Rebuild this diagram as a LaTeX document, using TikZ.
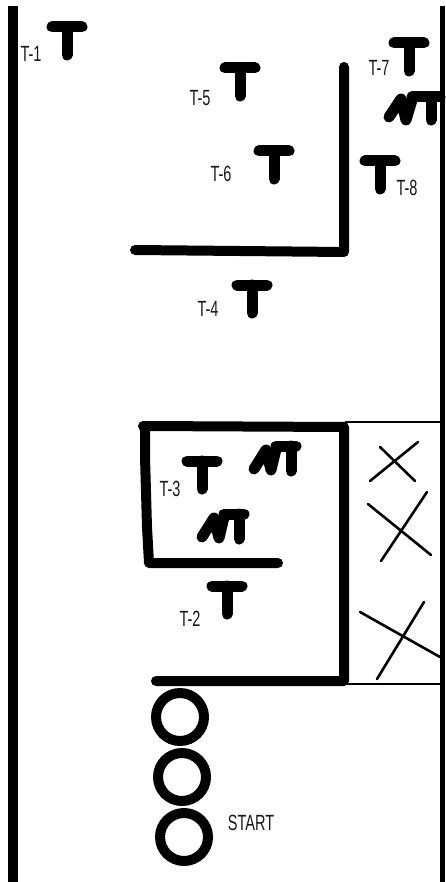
\documentclass[tikz,border=0pt]{standalone}
\usepackage{fontspec}
\setmainfont{Liberation Sans}
\tikzset{
  wall/.style={line width=10pt,line cap=round,line join=round,black},
  teeline/.style={line width=11pt,line cap=round,line join=round,black},
  thin wall/.style={line width=2pt,black},
  cross/.style={line width=2.6pt,line cap=round,black},
  ring/.style={circle,draw=black,line width=10pt,minimum size=48pt,inner sep=0pt,fill=white},
  lab/.style={inner sep=0pt,font=\fontsize{22}{22}\selectfont,transform shape,xscale=.66,text=black!90},
  hand/.style={line width=11pt,line cap=round,line join=round,black}
}
\newcommand{\teeshape}[2]{%
  \draw[teeline] (#1-15,#2) -- (#1+15,#2);
  \draw[teeline] (#1,#2) -- (#1,#2+28);
}
\newcommand{\ntshape}[2]{%
  \draw[hand] (#1+6,#2+28) -- (#1+18,#2+9) -- (#1+23,#2+29) -- (#1+28,#2+8);
  \draw[hand] (#1+28,#2+5) -- (#1+48,#2+5);
  \draw[hand] (#1+43,#2+5) -- (#1+43,#2+30);
}
\begin{document}
\begin{tikzpicture}[x=1pt,y=-1pt]
\useasboundingbox (0,0) rectangle (445,882);
\fill[white] (0,0) rectangle (445,882);
% outer walls
\draw[line width=10pt,black] (13,6) -- (13,882);
\draw[line width=5pt,black] (442.5,6) -- (442.5,882);
% upper L wall
\draw[wall] (344,67) -- (344,252) -- (135,250);
% lower walls
\draw[wall] (156,681) -- (344,681) -- (344,427) -- (143,426);
\draw[wall] (145,426) -- (145,457) -- (147,527) -- (149,563) -- (278,563);
% closed bay
\draw[thin wall] (345,421.5) -- (440,421.5);
\draw[thin wall] (345,684) -- (440,684);
% crosses
\draw[cross] (380,447) -- (415,481);
\draw[cross] (418,442) -- (370,481);
\draw[cross] (368,504) -- (431,555);
\draw[cross] (427,492) -- (381,561);
\draw[cross] (360,612) -- (440,657);
\draw[cross] (424,602) -- (377,679);
% T marks
\teeshape{67}{27}
\teeshape{240}{68}
\teeshape{274}{151}
\teeshape{409}{43}
\teeshape{380}{161}
\teeshape{252}{285}
\teeshape{202}{461}
\teeshape{227}{586}
% NT marks
\ntshape{248}{441}
\ntshape{196}{509}
\draw[hand] (389,117) -- (401,99) -- (406,120) -- (412,100);
\draw[hand] (412,97) -- (440,97);
\draw[hand] (431,97) -- (431,120);
% labels
\node[lab] (t1) at (31,54) {T-1};
\node[lab] (t5) at (200,98) {T-5};
\node[lab] (t6) at (221,174) {T-6};
\node[lab] (t7) at (379,68) {T-7};
\node[lab] (t8) at (407,188) {T-8};
\node[lab] (t4) at (208,309) {T-4};
\node[lab] (t3) at (170,489) {T-3};
\node[lab] (t2) at (190,619) {T-2};
\node[lab] (start) at (251,823) {START};
% circles
\node[ring] (c1) at (180,717) {};
\node[ring] (c2) at (182,777) {};
\node[ring] (c3) at (184,837) {};
\end{tikzpicture}
\end{document}
